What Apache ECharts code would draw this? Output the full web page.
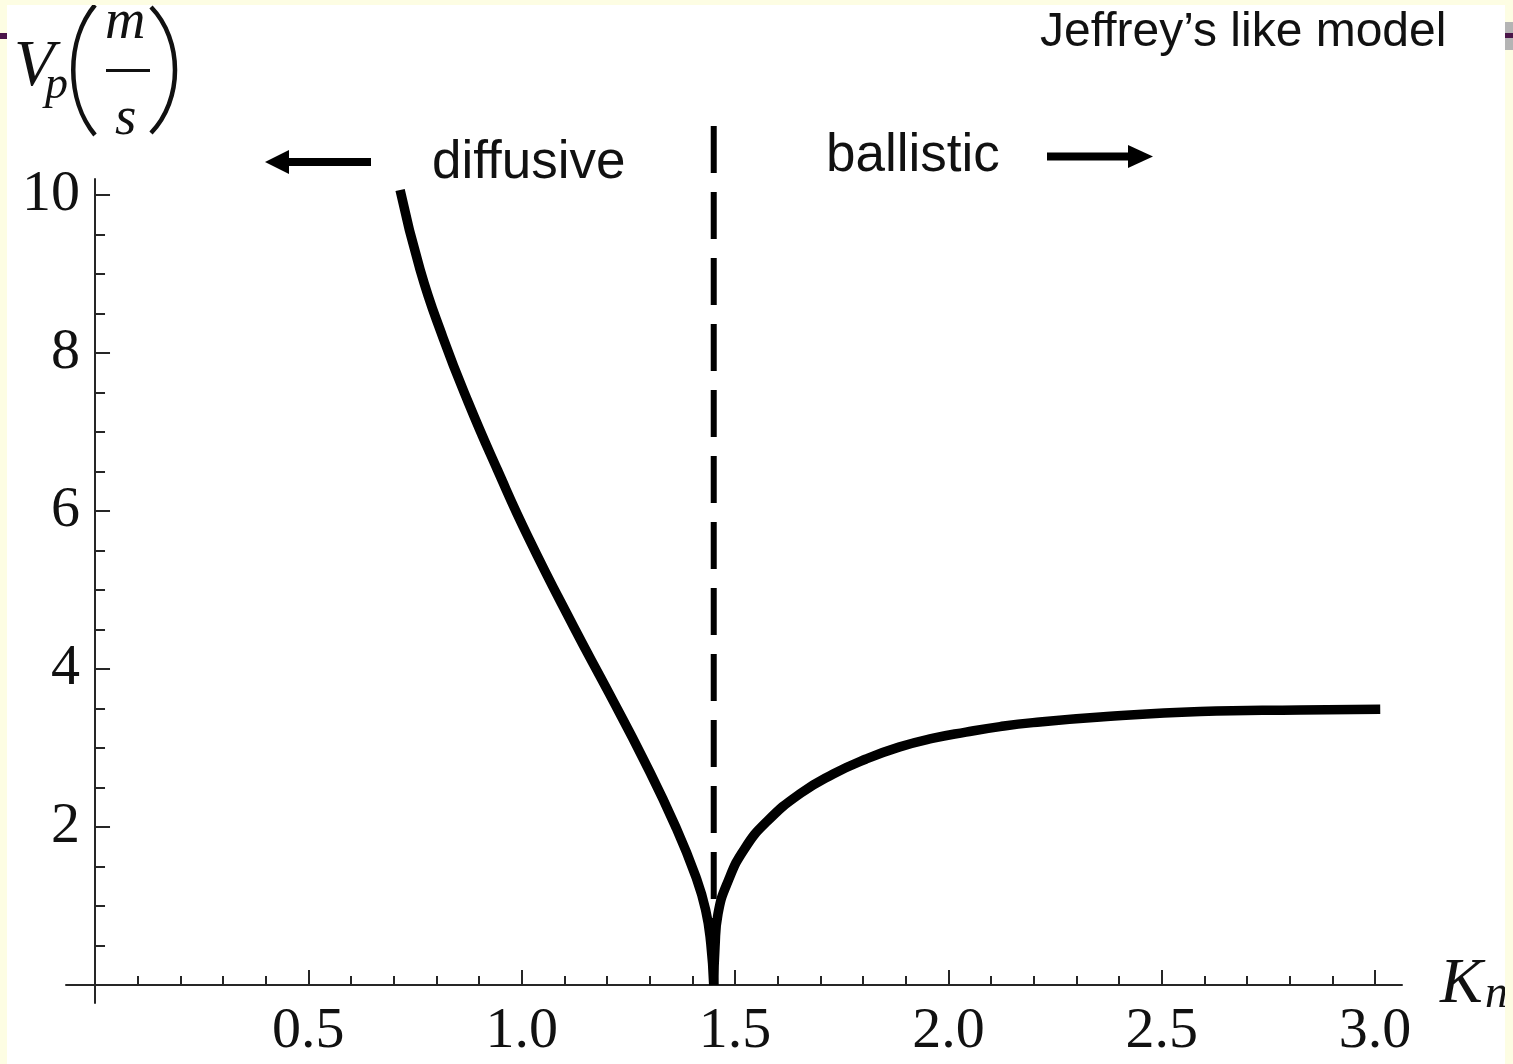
<!DOCTYPE html>
<html>
<head>
<meta charset="utf-8">
<title>Jeffrey’s like model</title>
<script src="https://cdn.jsdelivr.net/npm/echarts@6/dist/echarts.min.js"></script>
<style>
  html, body { margin: 0; padding: 0; background: #ffffff; }
  #chart { width: 1513px; height: 1064px; }
</style>
</head>
<body>
<div id="chart"></div>
<script>
// Diffusive branch: phase velocity Vp (m/s) against Knudsen number Kn
const knDiffusive = [0.715, 0.762, 0.815, 0.875, 0.943, 1.015, 1.122, 1.204, 1.286, 1.361, 1.408, 1.431, 1.443, 1.450];
const vpDiffusive = [10.06, 9.05, 8.20, 7.37, 6.52, 5.67, 4.53, 3.70, 2.85, 2.00, 1.37, 0.95, 0.53, 0.00];

// Ballistic branch
const knBallistic = [1.450, 1.453, 1.460, 1.484, 1.523, 1.575, 1.652, 1.730, 1.807, 1.884, 1.962, 2.041, 2.121, 2.198, 2.356, 2.590, 2.824, 3.012];
const vpBallistic = [0.00, 0.48, 0.90, 1.32, 1.73, 2.07, 2.42, 2.67, 2.86, 3.01, 3.12, 3.20, 3.27, 3.32, 3.39, 3.46, 3.48, 3.49];

// Diffusive / ballistic boundary
const knBoundary = 1.45;
const vpBoundarySpan = [10.87, 0];

// Axis ticks and labels
const xMajorTicks = [0.5, 1.0, 1.5, 2.0, 2.5, 3.0];
const xMinorTicks = [0.1, 0.2, 0.3, 0.4, 0.6, 0.7, 0.8, 0.9, 1.1, 1.2, 1.3, 1.4,
                     1.6, 1.7, 1.8, 1.9, 2.1, 2.2, 2.3, 2.4, 2.6, 2.7, 2.8, 2.9];
const yMajorTicks = [2, 4, 6, 8, 10];
const yMinorTicks = [0.5, 1, 1.5, 2.5, 3, 3.5, 4.5, 5, 5.5, 6.5, 7, 7.5, 8.5, 9, 9.5];

const xRange = [-0.068, 3.063];
const yRange = [-0.228, 10.2];

const zip = (xs, ys) => xs.map((x, i) => [x, ys[i]]);

const AXIS_COLOR = '#262626';
const SERIF = '"Liberation Serif", "Times New Roman", serif';
const SANS = '"Liberation Sans", Arial, sans-serif';
const BORDER = '#fdfde3';

const chart = echarts.init(document.getElementById('chart'), null, { renderer: 'canvas' });

function xAxisDef(ticks, len, withLine, withLabels, zeroIdx) {
  return {
    type: 'value', position: 'bottom', min: xRange[0], max: xRange[1],
    splitLine: { show: false },
    axisLine: { show: withLine, onZero: true, onZeroAxisIndex: zeroIdx,
                lineStyle: { color: AXIS_COLOR, width: 2 } },
    axisTick: { show: true, inside: true, length: len, customValues: ticks,
                lineStyle: { color: AXIS_COLOR, width: 2 } },
    axisLabel: { show: withLabels, customValues: ticks, margin: 0,
                 formatter: v => v.toFixed(1),
                 fontFamily: SERIF, fontSize: 58, color: '#111' }
  };
}
function yAxisDef(ticks, len, withLine, withLabels, zeroIdx) {
  return {
    type: 'value', position: 'left', min: yRange[0], max: yRange[1],
    splitLine: { show: false },
    axisLine: { show: withLine, onZero: true, onZeroAxisIndex: zeroIdx,
                lineStyle: { color: AXIS_COLOR, width: 2 } },
    axisTick: { show: true, inside: true, length: len, customValues: ticks,
                lineStyle: { color: AXIS_COLOR, width: 2 } },
    axisLabel: { show: withLabels, customValues: ticks, margin: -14,
                 formatter: v => String(v),
                 fontFamily: SERIF, fontSize: 58, color: '#111' }
  };
}

const curveStyle = { color: '#000', width: 9.5, cap: 'butt', join: 'round' };

function label(text, x, y, font) {
  return { type: 'text', x: x, y: y, z: 20,
           style: { text: text, font: font, fill: '#111', textVerticalAlign: 'middle' } };
}

const option = {
  backgroundColor: '#ffffff',
  animation: false,
  grid: { left: 66, right: 111, top: 179, bottom: 61, containLabel: false, outerBoundsMode: 'none' },
  xAxis: [
    xAxisDef(xMajorTicks, 15, true, true, 0),
    xAxisDef(xMinorTicks, 9, false, false, 1)
  ],
  yAxis: [
    yAxisDef(yMajorTicks, 15, true, true, 0),
    yAxisDef(yMinorTicks, 10, false, false, 1)
  ],
  series: [
    {
      name: 'diffusive', type: 'line', xAxisIndex: 0, yAxisIndex: 0,
      data: zip(knDiffusive, vpDiffusive),
      showSymbol: false, smooth: 0.5, lineStyle: curveStyle, z: 5
    },
    {
      name: 'ballistic', type: 'line', xAxisIndex: 0, yAxisIndex: 0,
      data: zip(knBallistic, vpBallistic),
      showSymbol: false, smooth: 0.5, lineStyle: curveStyle, z: 5
    },
    {
      name: 'boundary', type: 'line', xAxisIndex: 0, yAxisIndex: 0,
      data: vpBoundarySpan.map(v => [knBoundary, v]),
      showSymbol: false, clip: false, silent: true,
      lineStyle: { color: '#000', width: 6, type: [47, 19], cap: 'butt' }, z: 4
    }
  ],
  graphic: [
    // Regime annotations
    label('Jeffrey’s like model', 1040, 33, '48px ' + SANS),
    label('diffusive', 432, 163, '53px ' + SANS),
    label('ballistic', 826, 156, '53px ' + SANS),
    // Arrow pointing to the diffusive side
    { type: 'rect', z: 20, shape: { x: 285, y: 158, width: 86, height: 8 }, style: { fill: '#000' } },
    { type: 'polygon', z: 20, shape: { points: [[265, 162], [289, 150], [289, 174]] }, style: { fill: '#000' } },
    // Arrow pointing to the ballistic side
    { type: 'rect', z: 20, shape: { x: 1047, y: 152.5, width: 84, height: 8 }, style: { fill: '#000' } },
    { type: 'polygon', z: 20, shape: { points: [[1153, 156.5], [1128, 145], [1128, 168]] }, style: { fill: '#000' } },

    // Vertical axis title: V_p (m / s)
    label('V', 14, 68, 'italic 66px ' + SERIF),
    label('p', 45, 86, 'italic 46px ' + SERIF),
    { type: 'bezierCurve', z: 20,
      shape: { x1: 95, y1: 5, cpx1: 66, cpy1: 40, cpx2: 66, cpy2: 100, x2: 95, y2: 135 },
      style: { stroke: '#111', lineWidth: 4.5, fill: null } },
    { type: 'bezierCurve', z: 20,
      shape: { x1: 151, y1: 7, cpx1: 183, cpy1: 40, cpx2: 183, cpy2: 100, x2: 151, y2: 133 },
      style: { stroke: '#111', lineWidth: 4.5, fill: null } },
    label('m', 105, 23, 'italic 56px ' + SERIF),
    { type: 'rect', z: 20, shape: { x: 106, y: 69, width: 44, height: 3 }, style: { fill: '#111' } },
    label('s', 115, 120, 'italic 55px ' + SERIF),

    // Horizontal axis title: K_n
    label('K', 1440, 985, 'italic 64px ' + SERIF),
    label('n', 1485, 995, 'italic 46px ' + SERIF),

    // Page frame
    { type: 'rect', z: 50, shape: { x: 0, y: 0, width: 1513, height: 5 }, style: { fill: BORDER } },
    { type: 'rect', z: 50, shape: { x: 0, y: 0, width: 7, height: 1064 }, style: { fill: BORDER } },
    { type: 'rect', z: 50, shape: { x: 1505, y: 0, width: 8, height: 1064 }, style: { fill: BORDER } },
    { type: 'rect', z: 51, shape: { x: 0, y: 33, width: 7, height: 6 }, style: { fill: '#4a1548' } },
    { type: 'rect', z: 51, shape: { x: 1505, y: 22, width: 8, height: 28 }, style: { fill: '#b4b4b4' } },
    { type: 'rect', z: 52, shape: { x: 1505, y: 33, width: 8, height: 5 }, style: { fill: '#4a1548' } }
  ]
};

chart.setOption(option);
</script>
</body>
</html>
